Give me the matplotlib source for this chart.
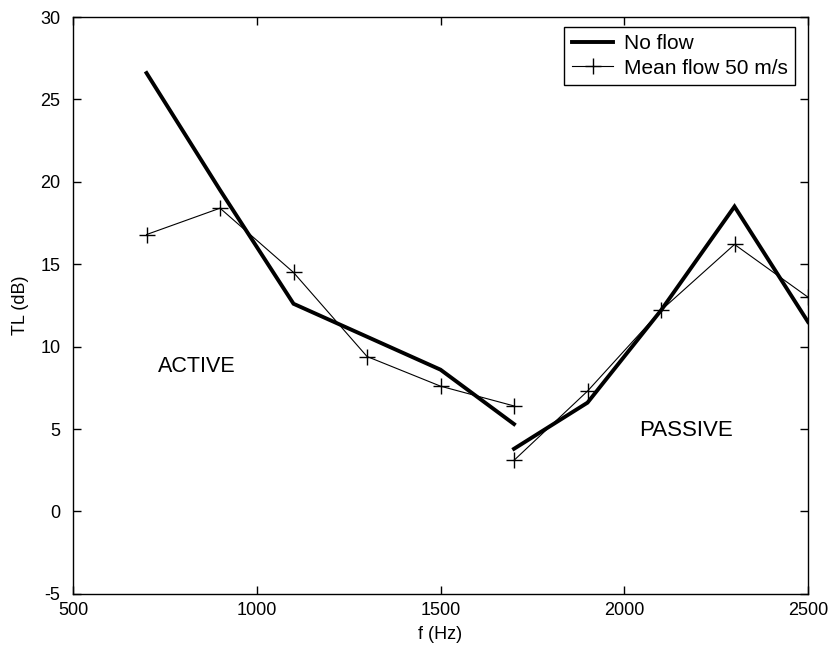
import matplotlib
matplotlib.use("Agg")
import matplotlib.pyplot as plt

plt.rcParams['font.family'] = ['Liberation Sans', 'DejaVu Sans']
plt.rcParams['axes.unicode_minus'] = False

# Frequencies (Hz): active region then passive region
f_active = [700, 900, 1100, 1300, 1500, 1700]
f_passive = [1700, 1900, 2100, 2300, 2500]

# Transmission loss (dB)
tl_noflow_active = [26.6, 19.5, 12.6, 10.6, 8.6, 5.3]
tl_noflow_passive = [3.8, 6.6, 12.2, 18.5, 11.5]
tl_flow_active = [16.8, 18.4, 14.5, 9.4, 7.6, 6.4]
tl_flow_passive = [3.1, 7.3, 12.2, 16.2, 13.0]

x_ticks = [500, 1000, 1500, 2000, 2500]
y_ticks = [-5, 0, 5, 10, 15, 20, 25, 30]

fig = plt.figure(figsize=(8.3, 6.54), dpi=100)
ax = fig.add_axes([0.088, 0.092, 0.8855, 0.882])

thick = dict(color='black', lw=2.8, solid_joinstyle='miter')
thin = dict(color='black', lw=0.8, marker='+', ms=12, mew=1.0)

ax.plot(f_active, tl_noflow_active, label='No flow', **thick)
ax.plot(f_passive, tl_noflow_passive, **thick)
ax.plot(f_active, tl_flow_active, label='Mean flow 50 m/s', **thin)
ax.plot(f_passive, tl_flow_passive, **thin)

ax.text(730, 8.8, 'ACTIVE', fontsize=15.5, va='center', ha='left')
ax.text(2040, 4.9, 'PASSIVE', fontsize=16, va='center', ha='left')

ax.set_xlim(500, 2500)
ax.set_ylim(-5, 30)
ax.set_xticks(x_ticks)
ax.set_yticks(y_ticks)
ax.tick_params(direction='in', top=True, right=True, labelsize=13, length=6, width=1)
ax.tick_params(axis='y', pad=9)
ax.tick_params(axis='x', pad=6)
for s in ax.spines.values():
    s.set_linewidth(1.0)

ax.set_xlabel('f (Hz)', fontsize=13, labelpad=5)
ax.set_ylabel('TL (dB)', fontsize=13, labelpad=8)

leg = ax.legend(loc='upper right', bbox_to_anchor=(795 / 830, 1 - 27 / 654),
                bbox_transform=fig.transFigure, borderaxespad=0,
                fontsize=15, frameon=True, fancybox=False,
                framealpha=1, edgecolor='black', handlelength=2.0,
                labelspacing=0.25, borderpad=0.35, handletextpad=0.5)
leg.get_frame().set_linewidth(1.0)

fig.savefig('out.png', dpi=100)
